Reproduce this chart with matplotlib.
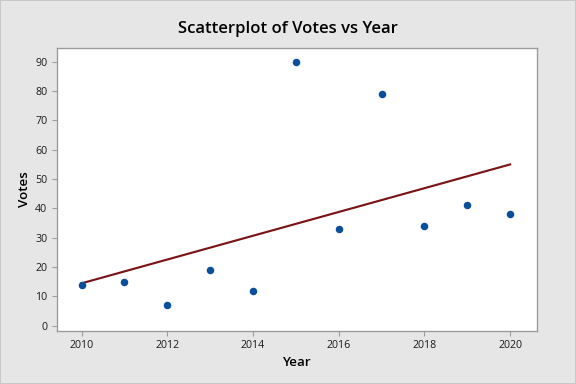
import numpy as np
import matplotlib
matplotlib.use("Agg")
import matplotlib.pyplot as plt
from matplotlib.patches import Rectangle

# --- DATA ---
years = [2010, 2011, 2012, 2013, 2014, 2015, 2016, 2017, 2018, 2019, 2020]
votes = [14, 15, 7, 19, 12, 90, 33, 79, 34, 41, 38]
x_ticks = [2010, 2012, 2014, 2016, 2018, 2020]
y_ticks = [0, 10, 20, 30, 40, 50, 60, 70, 80, 90]

plt.rcParams['font.family'] = ['Open Sans', 'DejaVu Sans']

fig = plt.figure(figsize=(6, 4), dpi=96, facecolor='#e6e6e6')
fig.patches.append(Rectangle((0, 0), 1, 1, transform=fig.transFigure,
                             fill=False, edgecolor='#c8c8c8', linewidth=1.5))
ax = fig.add_axes([0.0984, 0.1388, 0.8334, 0.7362])
ax.set_facecolor('white')

# fitted regression line
slope, intercept = np.polyfit(years, votes, 1)
xs = np.array([years[0], years[-1]])
ax.plot(xs, slope * xs + intercept, color='#7a1416', linewidth=1.6, zorder=2)

ax.scatter(years, votes, s=32, color='#0a4f9c', zorder=3, linewidths=0)

ax.set_xlim(2009.42, 2020.62)
ax.set_ylim(-1.7, 94.7)
ax.set_xticks(x_ticks)
ax.set_yticks(y_ticks)

for s in ax.spines.values():
    s.set_color('#9a9a9a')
    s.set_linewidth(1)
ax.tick_params(direction='out', length=4, width=0.8, color='#9a9a9a',
               labelsize=8, labelcolor='#1a1a1a', pad=3)

ax.set_xlabel('Year', fontsize=10, fontweight='semibold', labelpad=4)
ax.set_ylabel('Votes', fontsize=10, fontweight='semibold', labelpad=3)
fig.suptitle('Scatterplot of Votes vs Year', fontsize=12.5, fontweight='semibold',
             y=0.945)

fig.savefig('out.png', dpi=96, facecolor=fig.get_facecolor())
